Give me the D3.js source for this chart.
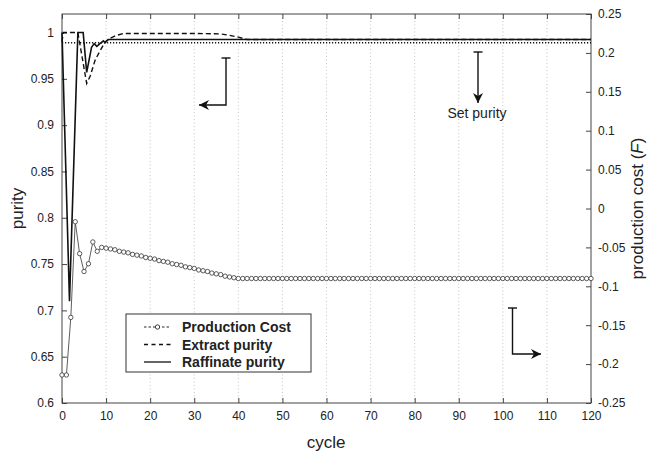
<!DOCTYPE html>
<html>
<head>
<meta charset="utf-8">
<script src="https://cdn.jsdelivr.net/npm/d3@7"></script>
<style>
  body { margin: 0; background: #fff; }
  svg { font-family: "Liberation Sans", Arial, Helvetica, sans-serif; }
  .axis path, .axis line { stroke: #444; }
  .axis text { fill: #222; font-size: 12px; }
</style>
</head>
<body>
<script>
var cycleTicks = [0, 10, 20, 30, 40, 50, 60, 70, 80, 90, 100, 110, 120];
var purityTicks = [0.6, 0.65, 0.7, 0.75, 0.8, 0.85, 0.9, 0.95, 1];
var costTicks = [-0.25, -0.2, -0.15, -0.1, -0.05, 0, 0.05, 0.1, 0.15, 0.2, 0.25];

var productionCost = [
  -0.214, -0.214, -0.140, -0.017, -0.058, -0.081, -0.071, -0.043, -0.055, -0.050,
  -0.051, -0.052, -0.053, -0.055, -0.056, -0.057, -0.059, -0.060, -0.061, -0.063,
  -0.064, -0.065, -0.067, -0.068, -0.069, -0.071, -0.072, -0.073, -0.075, -0.076,
  -0.077, -0.079, -0.080, -0.081, -0.083, -0.084, -0.085, -0.087, -0.088, -0.089,
  -0.090, -0.090, -0.090, -0.090, -0.090, -0.090, -0.090, -0.090, -0.090, -0.090,
  -0.090, -0.090, -0.090, -0.090, -0.090, -0.090, -0.090, -0.090, -0.090, -0.090,
  -0.090, -0.090, -0.090, -0.090, -0.090, -0.090, -0.090, -0.090, -0.090, -0.090,
  -0.090, -0.090, -0.090, -0.090, -0.090, -0.090, -0.090, -0.090, -0.090, -0.090,
  -0.090, -0.090, -0.090, -0.090, -0.090, -0.090, -0.090, -0.090, -0.090, -0.090,
  -0.090, -0.090, -0.090, -0.090, -0.090, -0.090, -0.090, -0.090, -0.090, -0.090,
  -0.090, -0.090, -0.090, -0.090, -0.090, -0.090, -0.090, -0.090, -0.090, -0.090,
  -0.090, -0.090, -0.090, -0.090, -0.090, -0.090, -0.090, -0.090, -0.090, -0.090,
  -0.090
];

var extractCycle = [0, 0.3, 3.6, 5.6, 6.4, 7.5, 8.6, 9.8, 11, 12.4, 14, 20, 30, 36, 38, 40, 42, 50, 120];
var extractPurity = [0.99, 1.0, 1.0, 0.945, 0.953, 0.97, 0.98, 0.99, 0.994, 0.997, 0.999, 0.999, 0.999, 0.9985, 0.997, 0.995, 0.9925, 0.9925, 0.9925];

var raffinateCycle = [0, 1.7, 3.6, 4.8, 5.6, 6.7, 7.3, 7.9, 8.6, 9.4, 9.75, 10.5, 120];
var raffinatePurity = [1.0, 0.71, 1.0, 1.0, 0.957, 0.984, 0.988, 0.985, 0.988, 0.991, 0.989, 0.9925, 0.9925];

var setPurityCycle = [0, 120];
var setPurity = [0.989, 0.989];

var width = 650;
var height = 457;
var margin = { top: 14, right: 59, bottom: 54, left: 62 };
var innerW = width - margin.left - margin.right;
var innerH = height - margin.top - margin.bottom;

var svg = d3.select('body').append('svg')
  .attr('width', width)
  .attr('height', height);

var g = svg.append('g').attr('transform', 'translate(' + margin.left + ',' + margin.top + ')');

var x = d3.scaleLinear().domain([0, 120]).range([0, innerW]);
var yPurity = d3.scaleLinear().domain([0.6, 1.02]).range([innerH, 0]);
var yCost = d3.scaleLinear().domain([-0.25, 0.25]).range([innerH, 0]);

// vertical dotted grid
g.selectAll('.grid')
  .data(cycleTicks.slice(1, -1))
  .enter().append('line')
  .attr('class', 'grid')
  .attr('x1', function (d) { return x(d); })
  .attr('x2', function (d) { return x(d); })
  .attr('y1', 0)
  .attr('y2', innerH)
  .attr('stroke', '#b8b8b8')
  .attr('stroke-width', 0.8)
  .attr('stroke-dasharray', '1,2.5');

function noDomain(sel) { sel.select('.domain').remove(); }

g.append('g').attr('class', 'axis')
  .attr('transform', 'translate(0,' + innerH + ')')
  .call(d3.axisBottom(x).tickValues(cycleTicks).tickSize(-5).tickPadding(8).tickFormat(d3.format('d')))
  .call(noDomain);

g.append('g').attr('class', 'axis')
  .call(d3.axisTop(x).tickValues(cycleTicks).tickSize(-5).tickFormat(''))
  .call(noDomain);

g.append('g').attr('class', 'axis')
  .call(d3.axisLeft(yPurity).tickValues(purityTicks).tickSize(-5).tickPadding(8).tickFormat(function (d) { return String(+d.toFixed(2)); }))
  .call(noDomain);

g.append('g').attr('class', 'axis')
  .attr('transform', 'translate(' + innerW + ',0)')
  .call(d3.axisRight(yCost).tickValues(costTicks).tickSize(-5).tickPadding(7).tickFormat(function (d) { return String(+d.toFixed(2)); }))
  .call(noDomain);

// box
g.append('rect')
  .attr('width', innerW)
  .attr('height', innerH)
  .attr('fill', 'none')
  .attr('stroke', '#444')
  .attr('stroke-width', 1);

var purityLine = d3.line()
  .x(function (d) { return x(d[0]); })
  .y(function (d) { return yPurity(d[1]); });

g.append('path')
  .datum(d3.zip(setPurityCycle, setPurity))
  .attr('d', purityLine)
  .attr('fill', 'none')
  .attr('stroke', '#111')
  .attr('stroke-width', 1.4)
  .attr('stroke-dasharray', '1.2,1.8');

g.append('path')
  .datum(d3.zip(extractCycle, extractPurity))
  .attr('d', purityLine)
  .attr('fill', 'none')
  .attr('stroke', '#111')
  .attr('stroke-width', 1.4)
  .attr('stroke-dasharray', '5,3');

g.append('path')
  .datum(d3.zip(raffinateCycle, raffinatePurity))
  .attr('d', purityLine)
  .attr('fill', 'none')
  .attr('stroke', '#111')
  .attr('stroke-width', 1.6);

var costLine = d3.line()
  .x(function (d, i) { return x(i); })
  .y(function (d) { return yCost(d); });

g.append('path')
  .datum(productionCost)
  .attr('d', costLine)
  .attr('fill', 'none')
  .attr('stroke', '#333')
  .attr('stroke-width', 0.8);

g.selectAll('.cost')
  .data(productionCost)
  .enter().append('circle')
  .attr('class', 'cost')
  .attr('cx', function (d, i) { return x(i); })
  .attr('cy', function (d) { return yCost(d); })
  .attr('r', 2.2)
  .attr('fill', '#fff')
  .attr('stroke', '#333')
  .attr('stroke-width', 0.8);

// arrows
svg.append('defs').append('marker')
  .attr('id', 'head')
  .attr('viewBox', '0 0 10 10')
  .attr('refX', 10).attr('refY', 5)
  .attr('markerWidth', 12).attr('markerHeight', 10)
  .attr('markerUnits', 'userSpaceOnUse')
  .attr('orient', 'auto')
  .append('path')
  .attr('d', 'M0,0 L10,5 L0,10 L3,5 Z')
  .attr('fill', '#111');

function arrow(points, cap) {
  svg.append('path')
    .attr('d', d3.line()(points))
    .attr('fill', 'none')
    .attr('stroke', '#111')
    .attr('stroke-width', 1.4)
    .attr('marker-end', 'url(#head)');
  svg.append('line')
    .attr('x1', cap[0] - 4.5).attr('x2', cap[0] + 4.5)
    .attr('y1', cap[1]).attr('y2', cap[1])
    .attr('stroke', '#111')
    .attr('stroke-width', 1.4);
}

arrow([[226, 58], [226, 105], [199, 105]], [226, 58]);
arrow([[478, 52], [478, 103]], [478, 52]);
arrow([[512.5, 308], [512.5, 354], [541, 354]], [512.5, 308]);

svg.append('text')
  .attr('x', 477).attr('y', 118)
  .attr('text-anchor', 'middle')
  .attr('font-size', 14)
  .attr('fill', '#222')
  .text('Set purity');

// legend
var legend = svg.append('g').attr('transform', 'translate(126,314)');
legend.append('rect')
  .attr('width', 185).attr('height', 58)
  .attr('fill', '#fff')
  .attr('stroke', '#333')
  .attr('stroke-width', 1);

var legendItems = [
  { label: 'Production Cost', dash: '2.5,2', marker: true },
  { label: 'Extract purity', dash: '4,3.5', marker: false },
  { label: 'Raffinate purity', dash: null, marker: false }
];

legendItems.forEach(function (item, i) {
  var yy = 13 + i * 17.5;
  var ln = legend.append('line')
    .attr('x1', 18).attr('x2', 45)
    .attr('y1', yy).attr('y2', yy)
    .attr('stroke', '#111')
    .attr('stroke-width', item.marker ? 0.9 : 1.3);
  if (item.dash) ln.attr('stroke-dasharray', item.dash);
  if (item.marker) {
    legend.append('circle')
      .attr('cx', 31.5).attr('cy', yy).attr('r', 2.2)
      .attr('fill', '#fff').attr('stroke', '#111').attr('stroke-width', 0.8);
  }
  legend.append('text')
    .attr('x', 56).attr('y', yy + 5)
    .attr('font-size', 14)
    .attr('font-weight', 'bold')
    .attr('fill', '#222')
    .text(item.label);
});

// axis titles
svg.append('text')
  .attr('x', 326).attr('y', 448)
  .attr('text-anchor', 'middle')
  .attr('font-size', 17)
  .attr('fill', '#222')
  .text('cycle');

svg.append('text')
  .attr('transform', 'translate(23,' + (margin.top + innerH / 2) + ') rotate(-90)')
  .attr('text-anchor', 'middle')
  .attr('font-size', 17)
  .attr('fill', '#222')
  .text('purity');

var rt = svg.append('text')
  .attr('transform', 'translate(643,' + (margin.top + innerH / 2) + ') rotate(-90)')
  .attr('text-anchor', 'middle')
  .attr('font-size', 17)
  .attr('fill', '#222');
rt.append('tspan').text('production cost (');
rt.append('tspan').attr('font-style', 'italic').text('F');
rt.append('tspan').text(')');
</script>
</body>
</html>
